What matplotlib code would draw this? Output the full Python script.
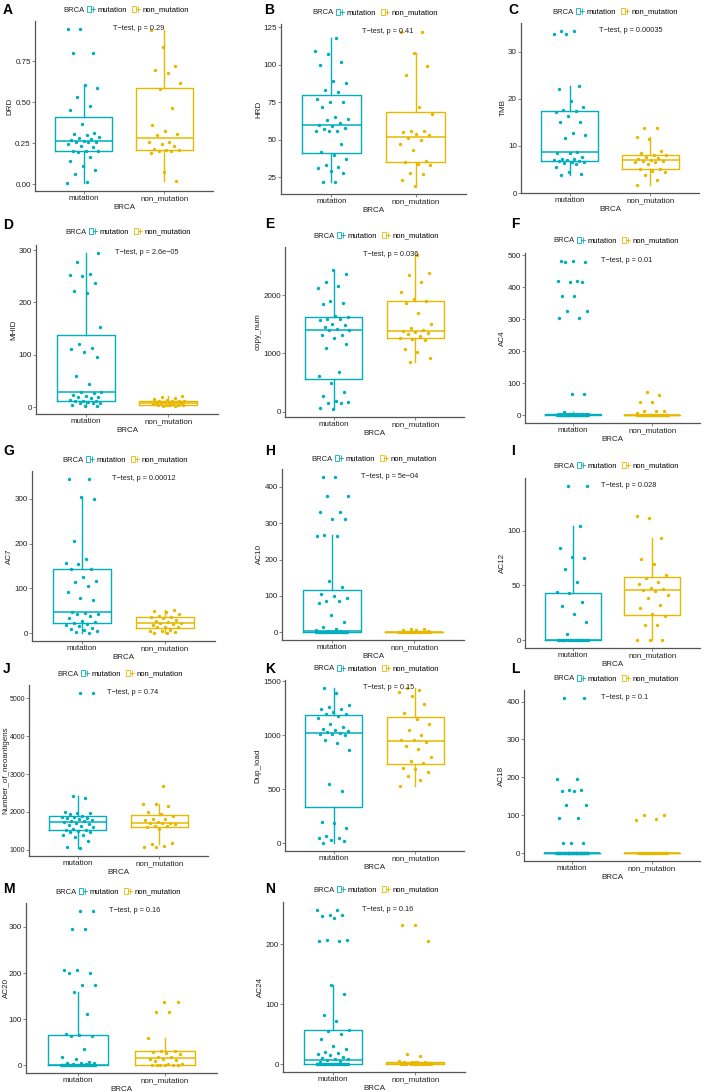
import numpy as np
import matplotlib
matplotlib.use("Agg")
import matplotlib.pyplot as plt
from matplotlib.lines import Line2D
from matplotlib.patches import Rectangle
from matplotlib.legend_handler import HandlerTuple

plt.rcParams['font.family'] = ['Liberation Sans', 'DejaVu Sans']

# ---- data (mutation / non_mutation per panel) ----
groups = ['mutation', 'non_mutation']
colors = ['#00AFBB', '#E7B800']

drd_mut = [0.005, 0.015, 0.06, 0.085, 0.11, 0.14, 0.165, 0.195, 0.20, 0.20, 0.205, 0.225, 0.235,
           0.245, 0.255, 0.26, 0.26, 0.265, 0.27, 0.275, 0.28, 0.29, 0.30, 0.305, 0.31, 0.37, 0.45,
           0.48, 0.53, 0.59, 0.605, 0.80, 0.80, 0.95, 0.95]
drd_non = [0.02, 0.075, 0.19, 0.20, 0.205, 0.21, 0.21, 0.215, 0.235, 0.245, 0.255, 0.26, 0.30,
           0.305, 0.325, 0.36, 0.465, 0.58, 0.62, 0.68, 0.70, 0.72, 0.84, 0.945]

hrd_mut = [22, 22, 28, 29, 31, 32, 33, 37, 40, 42, 47, 56, 56, 56, 57, 58, 59, 60, 61, 63, 64, 65,
           72, 75, 75, 77, 82, 83, 88, 89, 100, 102, 107, 109, 118]
hrd_non = [19, 23, 27, 28, 33, 34, 35.3, 36, 43, 47, 50, 51, 53, 54, 55, 56, 56, 67, 72, 93, 99,
           108, 122, 122]

tmb_mut = [3.8, 4.0, 4.4, 5.5, 6.2, 6.4, 6.5, 6.6, 6.7, 6.9, 7.0, 7.0, 7.2, 7.3, 7.7, 8.5, 8.6, 8.8,
           11.7, 12.4, 12.8, 15.0, 15.1, 16.4, 17.3, 17.4, 17.6, 18.2, 19.6, 22.1, 22.8, 33.8, 33.8,
           34.5, 34.5]
tmb_non = [1.7, 2.7, 3.9, 4.4, 4.7, 5.0, 5.15, 6.1, 6.5, 6.6, 6.7, 6.9, 7.1, 7.3, 7.4, 7.6, 8.1,
           8.1, 8.4, 9.0, 11.5, 11.8, 13.8, 13.8]

mhid_mut = [2, 3, 5, 8, 8, 9, 10, 12, 13, 13, 15, 18, 19, 20, 22, 24, 28, 29, 30, 45, 59, 97, 106,
            112, 113, 121, 154, 218, 222, 237, 251, 252, 254, 278, 295]
mhid_non = [3, 3.5, 4, 4.5, 4.8, 5, 5, 6, 7, 8, 8.5, 9, 9, 10, 11, 11.5, 12, 13, 13, 15, 16, 18,
            20, 22]

copy_mut = [40, 70, 140, 150, 160, 180, 260, 330, 500, 620, 680, 1100, 1160, 1260, 1310, 1320,
            1400, 1410, 1420, 1450, 1490, 1510, 1570, 1590, 1600, 1620, 1640, 1860, 1870, 1900,
            2120, 2170, 2230, 2370, 2440]
copy_non = [860, 930, 1030, 1070, 1230, 1250, 1275, 1300, 1340, 1360, 1370, 1380, 1400, 1440,
            1510, 1690, 1870, 1900, 1930, 2060, 2230, 2350, 2390, 2700]

ac4_mut = [0] * 30 + [1, 1, 1, 1, 1, 2, 2, 2, 2, 2, 3, 3, 3, 3, 4, 4, 4, 4, 5, 5, 5, 5] + \
          [11, 66, 66, 305, 305, 326, 326, 373, 373, 415, 415, 420, 420, 478, 478, 483, 483]
ac4_non = [0] * 26 + [8, 13, 13, 13, 42, 42, 62, 72]

ac7_mut = [0, 2, 5, 8, 10, 12, 17, 18, 20, 24, 25, 27, 35, 38, 42, 44, 46, 48, 74, 79, 92, 105,
           114, 116, 126, 143, 143, 155, 157, 165, 207, 300, 305, 345, 345]
ac7_non = [0, 1, 3, 5, 6, 8, 13, 13, 15, 18, 20, 22, 24, 25, 27, 30, 33, 36, 36, 38, 43, 47, 49, 51]

ac10_mut = [0] * 22 + [1, 1, 2, 3, 4, 5, 8, 15, 27, 48, 80, 85, 87, 95, 100, 105] + \
           [125, 140, 265, 265, 268, 312, 312, 330, 330, 375, 375, 428, 428]
ac10_non = [0] * 18 + [2, 3, 5, 7, 9, 10]

ac12_mut = [0] * 20 + [6, 17, 24, 31, 35, 43, 44, 53, 65, 75, 76, 84, 104, 141, 141]
ac12_non = [0, 0, 0, 14, 14, 22, 24, 29, 32, 39, 41, 45, 46, 47, 48, 51, 53, 57, 60, 70, 74, 93,
            112, 113]

neo_mut = [1040, 1060, 1220, 1340, 1380, 1390, 1460, 1480, 1500, 1520, 1530, 1560, 1590, 1620,
           1650, 1680, 1700, 1730, 1750, 1760, 1780, 1800, 1830, 1840, 1860, 1870, 1900, 1940,
           1960, 1980, 1990, 2370, 2420, 5150, 5150]
neo_non = [1070, 1080, 1110, 1150, 1180, 1560, 1610, 1620, 1640, 1680, 1700, 1700, 1720, 1740,
           1780, 1800, 1820, 1900, 1950, 2000, 2150, 2200, 2210, 2680]

dup_mut = [0, 25, 30, 45, 50, 70, 140, 190, 200, 480, 550, 860, 930, 960, 1000, 1010, 1015, 1020,
           1030, 1040, 1050, 1060, 1080, 1100, 1160, 1180, 1200, 1200, 1220, 1240, 1240, 1260,
           1280, 1390, 1440]
dup_non = [530, 590, 620, 660, 690, 700, 745, 760, 800, 870, 900, 940, 960, 960, 1000, 1050, 1100,
           1150, 1210, 1290, 1360, 1400, 1420, 1440]

ac18_mut = [0] * 46 + [26, 27, 28, 92, 92, 127, 127, 165, 165, 168, 168, 197, 197, 410, 410]
ac18_non = [0] * 20 + [88, 90, 100, 100]

ac20_mut = [0] * 27 + [1, 2, 3, 4, 5, 6, 8, 14, 19, 35, 63, 64, 65] + \
           [68, 112, 158, 175, 175, 200, 200, 207, 207, 295, 295, 335, 335]
ac20_non = [0, 0, 0, 0, 0, 0, 2, 3, 10, 12, 14, 14, 17, 18, 25, 26, 28, 30, 32, 60, 115, 115, 137, 137]

ac24_mut = [0] * 26 + [3, 5, 7, 8, 9, 10, 12, 15, 17, 19, 20, 25, 30, 42, 50, 55, 57] + \
           [73, 82, 117, 133, 205, 205, 207, 207, 245, 247, 250, 250, 258, 258]
ac24_non = [0] * 10 + [1, 1, 2, 2, 3, 3, 4, 4, 5, 13, 17, 205, 232, 232]

# letter, y label, mutation, non_mutation, y ticks, p value text
panels = [
    ('A', 'DRD', drd_mut, drd_non, [0, 0.25, 0.5, 0.75], '0.29'),
    ('B', 'HRD', hrd_mut, hrd_non, [25, 50, 75, 100, 125], '0.41'),
    ('C', 'TMB', tmb_mut, tmb_non, [0, 10, 20, 30], '0.00035'),
    ('D', 'MHID', mhid_mut, mhid_non, [0, 100, 200, 300], '2.6e\u221205'),
    ('E', 'copy_num', copy_mut, copy_non, [0, 1000, 2000], '0.036'),
    ('F', 'AC4', ac4_mut, ac4_non, [0, 100, 200, 300, 400, 500], '0.01'),
    ('G', 'AC7', ac7_mut, ac7_non, [0, 100, 200, 300], '0.00012'),
    ('H', 'AC10', ac10_mut, ac10_non, [0, 100, 200, 300, 400], '5e\u221204'),
    ('I', 'AC12', ac12_mut, ac12_non, [0, 50, 100], '0.028'),
    ('J', 'Number_of_neoantigens', neo_mut, neo_non, [1000, 2000, 3000, 4000, 5000], '0.74'),
    ('K', 'Dup_load', dup_mut, dup_non, [0, 500, 1000, 1500], '0.15'),
    ('L', 'AC18', ac18_mut, ac18_non, [0, 100, 200, 300, 400], '0.1'),
    ('M', 'AC20', ac20_mut, ac20_non, [0, 100, 200, 300], '0.16'),
    ('N', 'AC24', ac24_mut, ac24_non, [0, 100, 200], '0.16'),
]

# layout in pixels: axes box (left, top, right, bottom), panel letter, legend ("BRCA" x, y)
ax_px = [(35, 21, 213, 191), (281, 24, 466, 194), (521, 23, 699, 193),
         (36, 245, 218, 414), (285, 247, 464, 417), (525, 253, 700, 423),
         (32, 471, 215, 641), (282, 469, 464, 640), (525, 478, 700, 648),
         (29, 685, 208, 856), (285, 680, 464, 851), (524, 690, 700, 861),
         (26, 903, 217, 1073), (283, 902, 465, 1072)]
letter_px = [(3, 3), (264, 3), (508, 3), (3, 218), (265, 217), (511, 217),
             (3, 444), (265, 444), (511, 444), (3, 662), (265, 662), (511, 662),
             (3, 882), (265, 882)]
legend_px = [(63, 10), (312, 13), (552, 12), (65, 232), (313, 236), (553, 241),
             (62, 460), (311, 459), (553, 466), (57, 674), (313, 669), (553, 679),
             (55, 892), (313, 890)]
# y labels that sit against the left edge of the figure: right edge of the rotated text, pixels
ylabel_px = {'J': 9, 'M': 10}
# panel with narrower tick labels in the reference
tick_size = {'J': 5.0}

W, H = 708, 1092
fig = plt.figure(figsize=(W / 100, H / 100), dpi=100)


def jitter(n, k):
    # deterministic spread of points within +-0.2 of the group centre
    u = ((np.arange(n) + k) * 0.618034) % 1.0
    return (u - 0.5) * 0.4


legend_handles = [(Rectangle((0, 0), 1, 1, fc='white', ec=c, lw=0.6),
                   Line2D([], [], color=c, lw=0.6, marker='|', markersize=5, mew=0.6))
                  for c in colors]

for i, (letter, ylab, mut, non, yticks, p) in enumerate(panels):
    l, t, r, b = ax_px[i]
    ax = fig.add_axes([l / W, 1 - b / H, (r - l) / W, (b - t) / H])
    vals = [np.array(mut, float), np.array(non, float)]
    for j, (v, c) in enumerate(zip(vals, colors)):
        ax.boxplot(v, positions=[j + 1], widths=0.7, showfliers=False, showcaps=False, whis=1.5,
                   boxprops=dict(color=c, lw=1.0), whiskerprops=dict(color=c, lw=1.0),
                   medianprops=dict(color=c, lw=1.1), zorder=1)
        ax.scatter(j + 1 + jitter(len(v), 3 * j + i), v, s=6, color=c, lw=0, zorder=2)

    lo = min(v.min() for v in vals)
    hi = max(v.max() for v in vals)
    rng = hi - lo
    ax.set_ylim(lo - 0.05 * rng, hi + 0.05 * rng)
    ax.set_xlim(0.4, 2.6)
    ax.set_xticks([1, 2])
    ax.set_xticklabels(groups)
    ax.set_yticks(yticks)
    if letter == 'A':
        ax.set_yticklabels(['%.2f' % y for y in yticks])
    ax.text(1.36, hi, 'T\u2212test, p = ' + p, fontsize=5.3, ha='left', va='center', color='#222222')

    for s in ['top', 'right']:
        ax.spines[s].set_visible(False)
    for s in ['left', 'bottom']:
        ax.spines[s].set_color('#555555')
        ax.spines[s].set_linewidth(0.9)
    ax.tick_params(length=2, width=0.5, color='#555555', labelsize=5.8, pad=1,
                   labelcolor='#222222')
    if letter in tick_size:
        ax.tick_params(axis='y', labelsize=tick_size[letter], pad=0.6)
    ax.set_ylabel(ylab, fontsize=5.8, labelpad=1, color='#222222')
    if letter in ylabel_px:
        ax.yaxis.set_label_coords(-(l - ylabel_px[letter]) / (r - l), 0.5)
    ax.set_xlabel('BRCA', fontsize=5.8, labelpad=1.5, color='#222222')

    lx, ly = letter_px[i]
    fig.text(lx / W, 1 - ly / H, letter, fontsize=10, fontweight='bold', ha='left', va='top')

    bx, by = legend_px[i]
    fig.text(bx / W, 1 - by / H, 'BRCA', fontsize=5.5, ha='left', va='center', color='#222222')
    fig.legend(legend_handles, groups, loc='center left', bbox_to_anchor=((bx + 24) / W, 1 - by / H),
               ncol=2, frameon=False, fontsize=5.5, handlelength=1.1, handletextpad=0.3,
               columnspacing=0.6, borderpad=0, borderaxespad=0,
               handler_map={tuple: HandlerTuple(ndivide=None)})

fig.savefig('out.png', dpi=100)
